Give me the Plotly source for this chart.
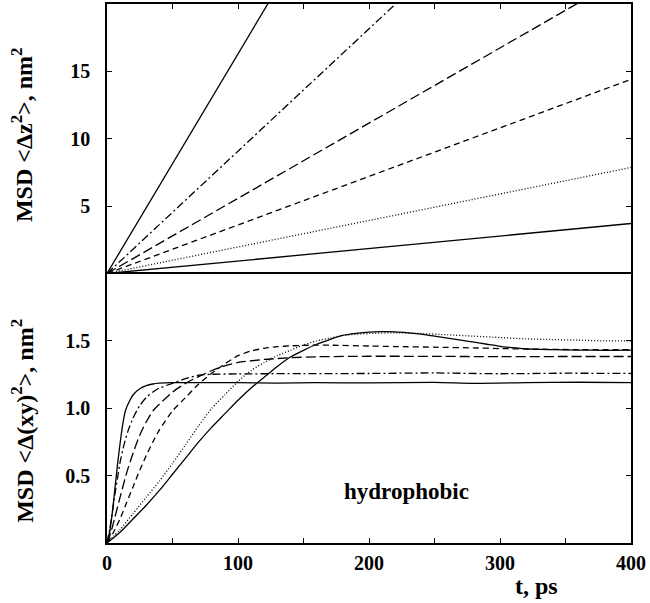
import plotly.graph_objects as go

# ---------------- data ----------------
# top panel: MSD <dz^2> (straight lines)
t_z = [0, 100, 200, 300, 400]
z_a = [0, 16.3, 32.6, 48.9, 65.2]     # solid (steep)
z_b = [0, 9.08, 18.16, 27.24, 36.32]  # dash-dot
z_c = [0, 5.58, 11.16, 16.74, 22.32]  # long dash
z_d = [0, 3.60, 7.20, 10.81, 14.41]   # short dash
z_e = [0, 1.97, 3.94, 5.90, 7.87]     # dotted
z_f = [0, 0.93, 1.86, 2.78, 3.71]     # solid (flat)

# bottom panel: MSD <d(xy)^2>
t_a = [0, 2, 4, 6, 8, 10, 12, 14, 17, 20, 25, 30, 35, 40, 50, 70, 100, 130, 160, 200, 250, 280, 320, 360, 400]
xy_a = [0, 0.08, 0.22, 0.40, 0.58, 0.74, 0.88, 0.98, 1.05, 1.10, 1.145, 1.168, 1.18, 1.186, 1.19, 1.19, 1.19, 1.186, 1.19, 1.188, 1.192, 1.185, 1.19, 1.193, 1.19]

t_b = [0, 2, 4, 6, 8, 10, 13, 16, 20, 25, 30, 35, 40, 50, 60, 70, 80, 100, 150, 200, 250, 300, 350, 400]
xy_b = [0, 0.10, 0.22, 0.36, 0.48, 0.60, 0.73, 0.83, 0.93, 1.02, 1.08, 1.12, 1.15, 1.185, 1.22, 1.245, 1.252, 1.255, 1.257, 1.258, 1.262, 1.256, 1.26, 1.258]

t_c = [0, 3, 6, 10, 15, 20, 25, 30, 35, 40, 50, 60, 70, 80, 90, 100, 120, 140, 160, 200, 250, 300, 350, 400]
xy_c = [0, 0.08, 0.19, 0.34, 0.52, 0.67, 0.80, 0.90, 0.98, 1.03, 1.12, 1.185, 1.235, 1.28, 1.315, 1.34, 1.362, 1.375, 1.382, 1.386, 1.385, 1.383, 1.384, 1.384]

t_d = [0, 5, 10, 15, 20, 25, 30, 35, 40, 50, 60, 70, 80, 90, 100, 110, 120, 130, 140, 150, 170, 200, 220, 250, 280, 300, 330, 360, 400]
xy_d = [0, 0.08, 0.18, 0.30, 0.42, 0.54, 0.65, 0.75, 0.84, 0.98, 1.08, 1.18, 1.26, 1.33, 1.39, 1.425, 1.445, 1.457, 1.463, 1.467, 1.468, 1.462, 1.458, 1.453, 1.448, 1.443, 1.438, 1.435, 1.434]

t_e = [0, 10, 20, 30, 40, 50, 60, 70, 80, 90, 100, 110, 120, 130, 140, 150, 160, 170, 180, 190, 200, 220, 240, 260, 280, 300, 320, 340, 360, 380, 400]
xy_e = [0, 0.10, 0.22, 0.34, 0.46, 0.59, 0.73, 0.87, 1.0, 1.10, 1.20, 1.28, 1.34, 1.39, 1.43, 1.47, 1.50, 1.52, 1.54, 1.55, 1.555, 1.56, 1.555, 1.545, 1.535, 1.525, 1.515, 1.51, 1.505, 1.50, 1.50]

t_f = [0, 10, 20, 30, 40, 50, 60, 70, 80, 90, 100, 110, 120, 130, 140, 150, 160, 170, 180, 190, 200, 210, 220, 230, 240, 250, 260, 270, 280, 290, 300, 310, 320, 340, 360, 380, 400]
xy_f = [0, 0.08, 0.18, 0.28, 0.39, 0.51, 0.63, 0.75, 0.86, 0.96, 1.06, 1.15, 1.23, 1.31, 1.38, 1.43, 1.475, 1.51, 1.54, 1.555, 1.565, 1.568, 1.567, 1.56, 1.55, 1.535, 1.52, 1.505, 1.49, 1.475, 1.46, 1.45, 1.44, 1.435, 1.432, 1.43, 1.432]

x_ticks = [0, 100, 200, 300, 400]
x_ticktext = ["0", "100", "200", "300", "400"]
x_minor = [50, 150, 250, 350]
top_yticks = [5, 10, 15]
top_yticktext = ["5", "10", "15"]
bot_yticks = [0.5, 1.0, 1.5]
bot_yticktext = ["0.5", "1.0", "1.5"]

# ---------------- styles ----------------
styles = [
    "solid",
    "8px,3px,2px,3px",
    "10px,4px",
    "6px,4px",
    "1px,2px",
    "solid",
]
LW = 1.3
FONT = "Liberation Serif"


def bold(labels):
    return ["<b>%s</b>" % s for s in labels]


fig = go.Figure()

top_series = [z_a, z_b, z_c, z_d, z_e, z_f]
for vals, dash in zip(top_series, styles):
    fig.add_trace(go.Scatter(x=t_z, y=vals, mode="lines", xaxis="x2", yaxis="y2",
                             line=dict(color="black", width=LW, dash=dash),
                             showlegend=False, hoverinfo="skip"))

bot_series = [(t_a, xy_a), (t_b, xy_b), (t_c, xy_c), (t_d, xy_d), (t_e, xy_e), (t_f, xy_f)]
for (tt, vals), dash in zip(bot_series, styles):
    fig.add_trace(go.Scatter(x=tt, y=vals, mode="lines", xaxis="x", yaxis="y",
                             line=dict(color="black", width=LW, dash=dash, shape="spline", smoothing=0.6),
                             showlegend=False, hoverinfo="skip"))

tickfont = dict(family=FONT, size=20, color="black", weight="bold")
common = dict(showline=True, linecolor="black", linewidth=1.5, showgrid=False, zeroline=False,
              ticks="inside", ticklen=5, tickwidth=1.2, tickcolor="black", tickfont=tickfont)
minor = dict(tickvals=x_minor, ticks="inside", ticklen=5, tickwidth=1.2, tickcolor="black", showgrid=False)

fig.update_layout(
    width=650, height=603,
    margin=dict(l=107, r=16, t=4, b=60),
    paper_bgcolor="white", plot_bgcolor="white",
    xaxis=dict(domain=[0, 1], anchor="y", range=[0, 400], tickvals=x_ticks, ticktext=bold(x_ticktext),
               minor=minor, mirror=True, ticklabelstandoff=1, **common),
    yaxis=dict(domain=[0, 0.5], anchor="x", range=[0, 2], tickvals=bot_yticks, ticktext=bold(bot_yticktext),
               mirror="allticks", ticklabelstandoff=11, **common),
    xaxis2=dict(domain=[0, 1], anchor="y2", range=[0, 400], tickvals=x_ticks, side="top", minor=minor,
                showticklabels=False, mirror=False, matches="x", **common),
    yaxis2=dict(domain=[0.5, 1], anchor="x2", range=[0, 20], tickvals=top_yticks, ticktext=bold(top_yticktext),
                mirror="allticks", ticklabelstandoff=11, **common),
)

title_font = dict(family=FONT, size=24, color="black", weight="bold")
fig.add_annotation(text="MSD &lt;Δz<sup>2</sup>&gt;, nm<sup>2</sup>", xref="paper", yref="paper",
                   x=-0.161, y=0.758, textangle=-90, showarrow=False, font=title_font,
                   xanchor="center", yanchor="middle")
fig.add_annotation(text="MSD &lt;Δ(xy)<sup>2</sup>&gt;, nm<sup>2</sup>", xref="paper", yref="paper",
                   x=-0.161, y=0.226, textangle=-90, showarrow=False, font=title_font,
                   xanchor="center", yanchor="middle")
fig.add_annotation(text="t, ps", xref="paper", yref="paper", x=0.82, y=-0.08,
                   showarrow=False, font=title_font, xanchor="center", yanchor="middle",
                   borderpad=0)
fig.add_annotation(text="hydrophobic", xref="x", yref="y", x=229, y=0.38,
                   showarrow=False, font=dict(family=FONT, size=23, color="black", weight="bold"),
                   xanchor="center", yanchor="middle")

fig.write_html("out.html")
